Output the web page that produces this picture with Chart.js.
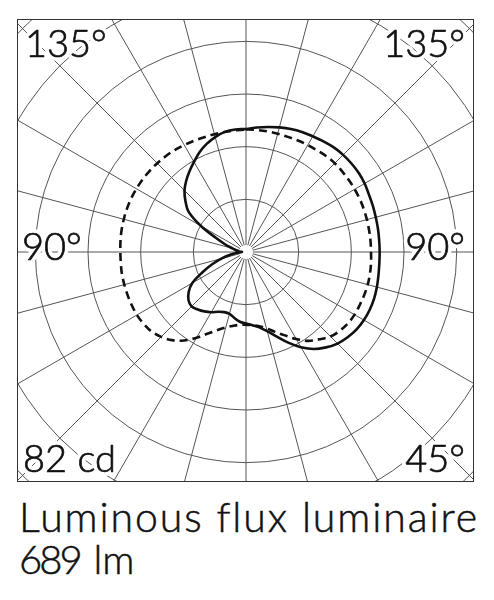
<!DOCTYPE html>
<html>
<head>
<meta charset="utf-8">
<title>Luminous intensity distribution</title>
<script src="https://cdn.jsdelivr.net/npm/chart.js@4"></script>
<style>
    body { margin: 0; background: #fff; overflow: hidden; width: 494px; height: 600px; position: relative; }
    #frame { position: absolute; left: 17px; top: 19px; width: 455px; height: 461px; border: 1.5px solid #333; overflow: hidden; }
    #polarWrap { position: absolute; left: -97.5px; top: -93.5px; width: 650px; height: 650px; }
    #caption { position: absolute; left: 19px; top: 496px; font-family: Lato, "Open Sans", sans-serif; font-weight: 300; color: #111; white-space: nowrap; -webkit-text-stroke: 0.5px #111; }
    #caption div { height: 42px; line-height: 42px; }
    #flux1 { font-size: 41px; letter-spacing: 1.9px; }
    #flux2 { font-size: 40px; }
    #flux2 .num { letter-spacing: -3px; margin-right: 3px; }
</style>
</head>
<body>
<div id="frame">
    <div id="polarWrap"><canvas id="polarChart" width="650" height="650"></canvas></div>
</div>
<div id="caption"><div id="flux1">Luminous flux luminaire</div><div id="flux2"><span class="num">689</span> lm</div></div>
<script>
// angle measured clockwise from the top of the diagram, degrees
const angles = [0, 5, 10, 15, 20, 25, 30, 35, 40, 45, 50, 55, 60, 65, 70, 75, 80, 85,
    90, 95, 100, 105, 110, 115, 120, 125, 130, 135, 140, 145, 150, 155, 160, 165, 170, 175,
    180, 185, 190, 195, 200, 205, 210, 215, 220, 225, 230, 235, 240, 245, 250, 255, 260, 265,
    270, 275, 280, 285, 290, 295, 300, 305, 310, 315, 320, 325, 330, 335, 340, 345, 350, 355];

// C0-C180 plane (solid), cd
const planeSolid = [73.8, 75, 76.2, 77.4, 78.6, 79.5, 80.1, 81, 81.9, 82.4, 82.6, 82.6, 82.2, 81.4, 81, 80.6, 80.4, 80.2,
    80.2, 80.3, 80.7, 81.3, 81.8, 81.9, 81.7, 81, 79.6, 77.7, 74.7, 71.1, 66, 60, 54, 49.2, 45.9, 44.1,
    42.9, 42, 40.2, 38.4, 38.4, 39.6, 41.7, 43.5, 45, 46.2, 45, 42, 37.2, 28.8, 21.6, 15, 9.6, 5.4,
    2.4, 4.2, 6, 8.4, 13.2, 19.8, 31.2, 42, 47.4, 52.2, 55.8, 59.1, 62.4, 66, 69, 71.4, 73.2, 73.8];

// C90-C270 plane (dashed), cd
const planeDashed = [73.5, 73.5, 73.5, 73.5, 73.5, 73.8, 74.1, 74.4, 75, 75.3, 75.3, 75.3, 75.3, 75.3, 75.2, 75.1, 75, 75,
    75, 75.3, 75.5, 75.6, 75.5, 75.3, 75.2, 74.7, 73.5, 71.7, 68.4, 65.1, 60.3, 55.2, 51, 47.4, 45.3, 44.1,
    43.7, 43.9, 45, 46.8, 49.8, 54, 59.4, 64.8, 69, 72, 74.1, 75, 75.6, 75.6, 75.6, 75.6, 75.6, 75.4,
    75.4, 75.6, 75.8, 75.9, 76, 76, 75.9, 75.8, 75.6, 75.3, 75, 74.7, 74.1, 73.7, 73.3, 73.2, 73.1, 73.2];

const ringStep = 31.6;   // cd between grid circles
const scaleMax = 195;    // cd at the corner of the frame

// corner labels: text, x / baseline offset from the centre, alignment
const cornerLabels = [
    { text: "135°", dx: -221, dy: -195, align: "left" },
    { text: "135°", dx: 219, dy: -195, align: "right" },
    { text: "90°", dx: -224, dy: 8, align: "left" },
    { text: "90°", dx: 219, dy: 8, align: "right" },
    { text: "82 cd", dx: -223, dy: 220, align: "left" },
    { text: "45°", dx: 219, dy: 220, align: "right" }
];

const polarDecor = {
    id: "polarDecor",
    beforeDatasetsDraw(chart) {
        const r = chart.scales.r;
        const ctx = chart.ctx;
        ctx.save();
        ctx.fillStyle = "#fff";
        ctx.beginPath();
        ctx.arc(r.xCenter, r.yCenter, 7, 0, Math.PI * 2);
        ctx.fill();
        ctx.restore();
    },
    afterDraw(chart) {
        const r = chart.scales.r;
        const ctx = chart.ctx;
        ctx.save();
        ctx.font = "300 38px Lato, 'Open Sans', sans-serif";
        ctx.textBaseline = "alphabetic";
        ctx.lineJoin = "round";
        cornerLabels.forEach(function (l) {
            var x = r.xCenter + l.dx, y = r.yCenter + l.dy;
            ctx.textAlign = l.align;
            // white halo so the grid stops around the text
            ctx.strokeStyle = "#fff";
            ctx.lineWidth = 8;
            ctx.strokeText(l.text, x, y);
            ctx.fillStyle = "#111";
            ctx.fillText(l.text, x, y);
            ctx.strokeStyle = "#111";
            ctx.lineWidth = 0.7;
            ctx.strokeText(l.text, x, y);
        });
        ctx.restore();
    }
};

document.addEventListener("DOMContentLoaded", function () {
    var polarCtx = document.getElementById("polarChart").getContext("2d");
    new Chart(polarCtx, {
        type: "radar",
        data: {
            labels: angles,
            datasets: [{
                label: "C0-C180",
                data: planeSolid,
                borderColor: "#111",
                borderWidth: 2.6,
                pointRadius: 0,
                tension: 0.35,
                fill: false
            }, {
                label: "C90-C270",
                data: planeDashed,
                borderColor: "#111",
                borderWidth: 2.6,
                borderDash: [8, 5],
                pointRadius: 0,
                tension: 0.35,
                fill: false
            }]
        },
        options: {
            responsive: false,
            animation: false,
            layout: { padding: 0 },
            plugins: {
                legend: { display: false },
                tooltip: { enabled: false }
            },
            scales: {
                r: {
                    min: 0,
                    max: scaleMax,
                    startAngle: 0,
                    ticks: { display: false, stepSize: ringStep, includeBounds: false },
                    pointLabels: { display: false },
                    grid: { circular: true, color: "#555", lineWidth: 1 },
                    angleLines: {
                        color: "#555",
                        lineWidth: function (c) { return c.index % 3 === 0 ? 1 : 0; }
                    }
                }
            }
        },
        plugins: [polarDecor]
    });
});
</script>
</body>
</html>
